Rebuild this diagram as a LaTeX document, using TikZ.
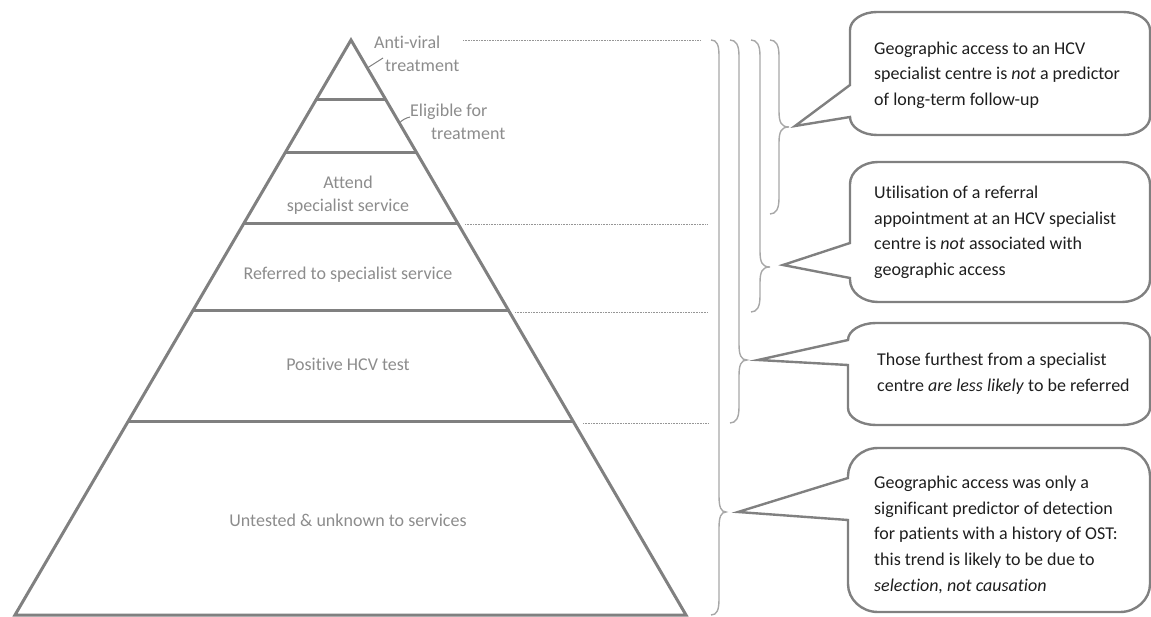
\documentclass[tikz,border=0pt]{standalone}
\usepackage{fontspec}
\setmainfont{Carlito}[Ligatures=NoCommon]
\usetikzlibrary{calc}
\definecolor{edge}{RGB}{128,128,128}
\definecolor{brc}{RGB}{168,168,168}
\definecolor{lbl}{RGB}{140,140,140}
\definecolor{txt}{RGB}{30,30,30}
\definecolor{dotc}{RGB}{150,150,150}
\newcommand{\bubblepath}[9]{%
 \draw[bubble] (#1,#5) -- (#7) -- (#1,#6) -- (#1,{#4-#9})
  .. controls (#1,{#4-0.45*#9}) and ({#1+0.45*#8},#4) .. ({#1+#8},#4)
  -- ({#3-#8},#4)
  .. controls ({#3-0.45*#8},#4) and (#3,{#4-0.45*#9}) .. (#3,{#4-#9})
  -- (#3,{#2+#9})
  .. controls (#3,{#2+0.45*#9}) and ({#3-0.45*#8},#2) .. ({#3-#8},#2)
  -- ({#1+#8},#2)
  .. controls ({#1+0.45*#8},#2) and (#1,{#2+0.45*#9}) .. (#1,{#2+#9})
  -- cycle;}
\newcommand{\bracepath}[6]{%
 \draw[brace] (#1,#4) .. controls ({#1+6},#4) and (#2,{#4+5}) .. (#2,{#4+16})
  -- (#2,{#5-16}) .. controls (#2,{#5-5}) and ({#2+2},#5) .. (#3,#5)
  .. controls ({#2+2},#5) and (#2,{#5+5}) .. (#2,{#5+16})
  -- (#2,{#6-16}) .. controls (#2,{#6-5}) and ({#1+6},#6) .. (#1,#6);}
\begin{document}
\begin{tikzpicture}[x=1pt,y=-1pt,
  pyr/.style={draw=edge,line width=3pt},
  lab/.style={text=lbl,inner sep=0pt,font=\fontsize{18}{23}\selectfont},
  note/.style={text=txt,inner sep=0pt,anchor=north west,align=left,font=\fontsize{18}{25.6}\selectfont},
  bubble/.style={draw=edge,line width=2.4pt,line join=miter},
  brace/.style={draw=brc,line width=1.4pt},
  leader/.style={draw=edge,line width=1pt},
  dotline/.style={draw=dotc,line width=0.9pt,dash pattern=on 0.8pt off 0.8pt}]
\useasboundingbox (0,0) rectangle (1151,617);
% pyramid
\coordinate (apex) at (351,40);
\coordinate (bl) at (15,615);
\coordinate (br) at (686,615);
\draw[pyr] (apex) -- (br) -- (bl) -- cycle;
\foreach \t/\n in {0.1043/l1,0.1965/l2,0.3183/l3,0.4713/l4,0.6643/l5}{
  \coordinate (\n a) at ($(apex)!\t!(bl)$);
  \coordinate (\n b) at ($(apex)!\t!(br)$);
  \draw[pyr] (\n a) -- (\n b);
}
% labels
\node[lab,anchor=north west,align=left] (av) at (374,36) {Anti-viral\\\hspace*{11pt}treatment};
\node[lab,anchor=north west,align=left] (el) at (410,104) {Eligible for\\\hspace*{21pt}treatment};
\node[lab,align=center] (at) at (348,195) {Attend\\specialist service};
\node[lab] (rf) at (348,274.5) {Referred to specialist service};
\node[lab] (ph) at (348,364.5) {Positive HCV test};
\node[lab] (ut) at (348,520.5) {Untested \& unknown to services};
% label leaders
\coordinate (avp) at ($(apex)!0.0487!(br)$);
\coordinate (avl) at (383,58);
\draw[leader] (avp) -- (avl);
\coordinate (elp) at ($(apex)!0.1443!(br)$);
\coordinate (ell) at (410,117);
\draw[leader] (elp) to[bend left=15] (ell);
% dotted leaders
\coordinate (d1s) at (463,40);  \coordinate (d1e) at (700,40);
\coordinate (d2s) at (465,224); \coordinate (d2e) at (708,224);
\coordinate (d3s) at (515,312); \coordinate (d3e) at (708,312);
\coordinate (d4s) at (583,423); \coordinate (d4e) at (708,423);
\draw[dotline] (d1s) -- (d1e);
\draw[dotline] (d2s) -- (d2e);
\draw[dotline] (d3s) -- (d3e);
\draw[dotline] (d4s) -- (d4e);
% braces
\bracepath{711}{719}{726}{40}{512}{615}
\bracepath{730}{739}{747}{40}{360}{423}
\bracepath{751}{760}{770}{40}{267}{312}
\bracepath{770}{779}{789}{40}{127}{214}
% callout tips
\coordinate (c1) at (795,126);
\coordinate (c2) at (783,265);
\coordinate (c3) at (758,360);
\coordinate (c4) at (738,512);
\bubblepath{850}{12}{1150}{135}{85}{117}{c1}{27}{18}
\bubblepath{850}{162}{1150}{302}{243}{278}{c2}{28}{22}
\bubblepath{848}{323}{1150}{425}{340}{365}{c3}{28}{17}
\bubblepath{848}{448}{1150}{612}{478}{520}{c4}{30}{28}
% notes
\node[note] (n1) at (874,41.5) {Geographic access to an HCV\\specialist centre is \emph{not} a predictor\\of long-term follow-up};
\node[note] (n2) at (874,186) {Utilisation of a referral\\appointment at an HCV specialist\\centre is \emph{not} associated with\\geographic access};
\node[note] (n3) at (877,353) {Those furthest from a specialist\\centre \emph{are less likely} to be referred};
\node[note] (n4) at (874,476) {Geographic access was only a\\significant predictor of detection\\for patients with a history of OST:\\this trend is likely to be due to\\\emph{selection, not causation}};
\end{tikzpicture}
\end{document}
